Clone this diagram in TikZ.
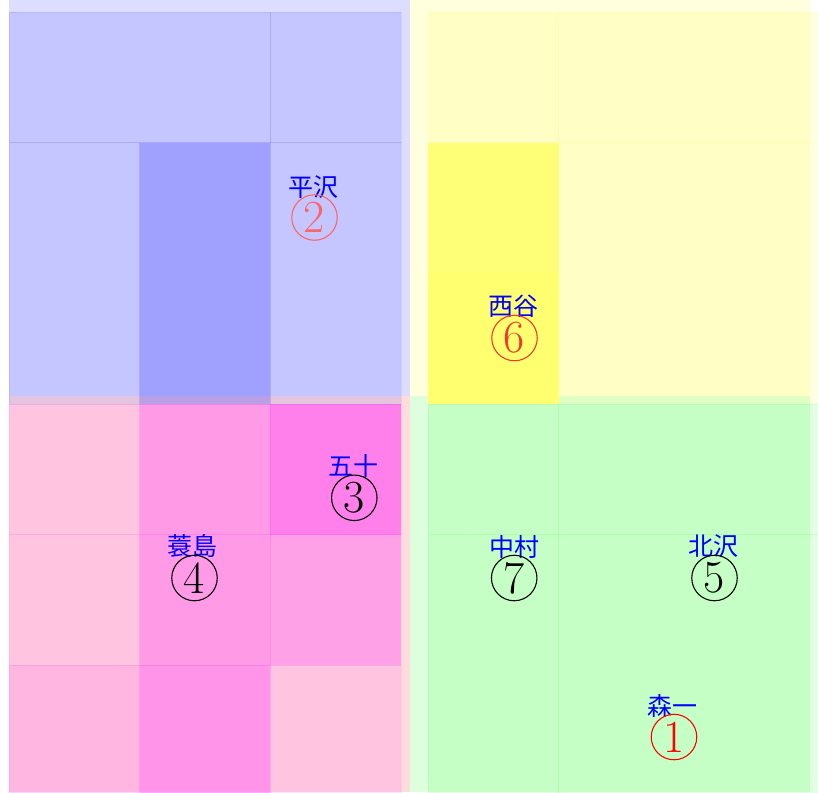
\documentclass[tikz,border=0pt]{standalone}
\usepackage{fontspec}
\newfontfamily\jpfont{Noto Sans CJK JP}
\definecolor{bgblue}{HTML}{DDDDFF}
\definecolor{bgyellow}{HTML}{FFFFDD}
\definecolor{bgpink}{HTML}{FFDDDD}
\definecolor{bggreen}{HTML}{DDFFDD}
\definecolor{pureblue}{RGB}{0,0,255}
\definecolor{puremag}{RGB}{255,0,255}
\definecolor{pureyellow}{RGB}{255,255,0}
\definecolor{puregreen}{RGB}{0,255,0}
\definecolor{strongyellow}{HTML}{FFFF77}
\definecolor{strongyellowb}{HTML}{FFFF70}
\definecolor{numtwo}{HTML}{FF6464}
\definecolor{numsix}{HTML}{F03A2A}
\definecolor{numone}{RGB}{255,0,0}
\tikzset{
  cellblue/.style={fill=pureblue, fill opacity=#1, draw=pureblue, draw opacity=0.07, line width=0.6pt},
  cellpink/.style={fill=puremag, fill opacity=#1, draw=puremag, draw opacity=0.07, line width=0.6pt},
  cellyellow/.style={fill=pureyellow, fill opacity=#1, draw=pureyellow!85!orange, draw opacity=0.07, line width=0.6pt},
  cellgreen/.style={fill=puregreen, fill opacity=#1, draw=puregreen, draw opacity=0.07, line width=0.6pt},
  lbl/.style={text=pureblue, font=\jpfont\fontsize{25}{25}\selectfont, inner sep=0pt},
  circnum/.style={circle, draw=#1, text=#1, line width=1.1pt, minimum size=45.5pt, inner sep=0pt,
    font=\fontsize{46}{46}\selectfont}
}
\begin{document}
\begin{tikzpicture}[x=1pt,y=-1pt]
\useasboundingbox (0,0) rectangle (818,792);
\clip (0,0) rectangle (818,792);
% backgrounds
\fill[bgblue]   (9,0)     rectangle (409.5,396);
\fill[bgyellow] (410,0)   rectangle (810,396);
\fill[bgpink]   (9,396)   rectangle (409.5,792);
\fill[bggreen]  (410,396) rectangle (810,792);
% blue quadrant
\path[cellblue=0.104] (9,12)        rectangle (270.3,142.7);
\path[cellblue=0.104] (270.3,12)    rectangle (401,142.7);
\path[cellblue=0.104] (9,142.7)     rectangle (139.7,404);
\path[cellblue=0.276] (139.7,142.7) rectangle (270.3,404);
\path[cellblue=0.104] (270.3,142.7) rectangle (401,404);
% pink quadrant
\path[cellpink=0.11] (9,404)       rectangle (139.7,534.7);
\path[cellpink=0.30] (139.7,404)   rectangle (270.3,534.7);
\path[cellpink=0.42] (270.3,404)   rectangle (401,534.7);
\path[cellpink=0.11] (9,534.7)     rectangle (139.7,665.3);
\path[cellpink=0.30] (139.7,534.7) rectangle (270.3,665.3);
\path[cellpink=0.27] (270.3,534.7) rectangle (401,665.3);
\path[cellpink=0.17] (9,665.3)     rectangle (139.7,796);
\path[cellpink=0.33] (139.7,665.3) rectangle (270.3,796);
\path[cellpink=0.11] (270.3,665.3) rectangle (401,796);
% yellow quadrant
\path[cellyellow=0.104] (428,12)     rectangle (558.7,142.7);
\path[cellyellow=0.104] (558.7,12)   rectangle (820,142.7);
\path[cellyellow=0.104] (558.7,142.7) rectangle (820,404);
\fill[strongyellow]  (428,142.7) rectangle (558.7,273.3);
\fill[strongyellowb] (428,273.3) rectangle (558.7,404);
% green quadrant
\path[cellgreen=0.104] (428,404)     rectangle (558.7,534.7);
\path[cellgreen=0.104] (558.7,404)   rectangle (820,534.7);
\path[cellgreen=0.104] (428,534.7)   rectangle (558.7,796);
\path[cellgreen=0.104] (558.7,534.7) rectangle (820,796);
% labels
\node[lbl] (hirasawa) at (313.3,187) {平沢};
\node[circnum=numtwo] (n2) at (314.5,217.5) {2};
\node[lbl] (nishiya) at (513.3,306) {西谷};
\node[circnum=numsix] (n6) at (514.5,338) {6};
\node[lbl] (isoju) at (353.3,466) {五十};
\node[circnum=black] (n3) at (354.3,497.8) {3};
\node[lbl] (minoshima) at (192.5,546) {蓑島};
\node[circnum=black] (n4) at (194.5,578) {4};
\node[lbl] (nakamura) at (514,546.5) {中村};
\node[circnum=black] (n7) at (514.2,578) {7};
\node[lbl] (kitazawa) at (713.3,546.5) {北沢};
\node[circnum=black] (n5) at (714.5,578) {5};
\node[lbl] (moriichi) at (672.5,706) {森一};
\node[circnum=numone] (n1) at (674,737) {1};
\end{tikzpicture}
\end{document}
